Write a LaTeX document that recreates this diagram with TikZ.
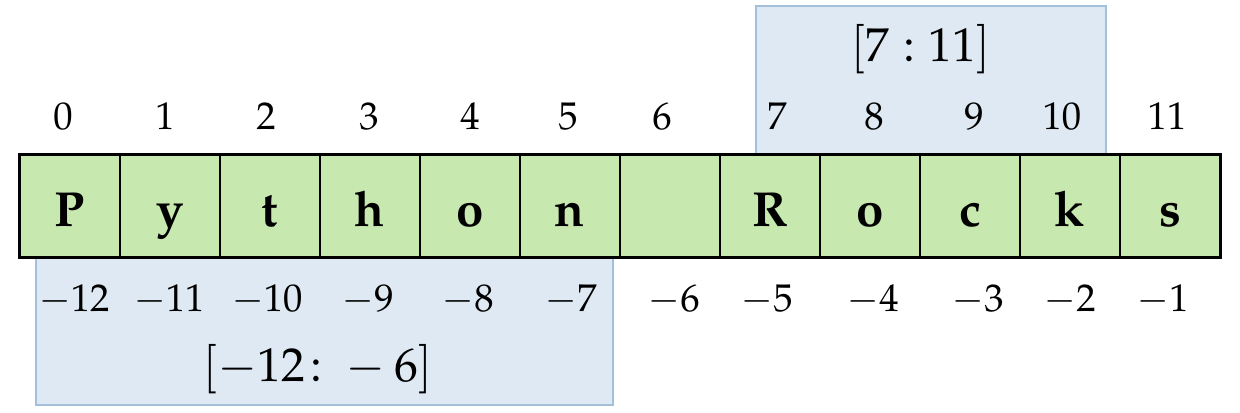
\documentclass[tikz,border=0pt]{standalone}
\usepackage[T1]{fontenc}
\usepackage{mathpazo}
\usepackage{tikz}
\usetikzlibrary{positioning}
\definecolor{cellgreen}{HTML}{C7E8AF}
\definecolor{slicefill}{HTML}{DFE9F3}
\definecolor{sliceedge}{HTML}{A3C0DA}

\tikzset{
  cell/.style={draw=black,line width=0.45pt,fill=cellgreen,minimum width=1cm,minimum height=1.02cm,
    text height=0.52cm,text depth=0.10cm,inner sep=0pt,font=\fontsize{14}{17}\selectfont\bfseries},
  idx/.style={anchor=base,inner sep=0pt,font=\fontsize{11}{13}\selectfont},
  slicebox/.style={draw=sliceedge,line width=0.7pt,fill=slicefill,anchor=south west,inner sep=0pt},
  slicelab/.style={anchor=base,inner sep=0pt,font=\fontsize{13.5}{16}\selectfont}
}

\begin{document}
\begin{tikzpicture}
  \useasboundingbox (0,0) rectangle (12.4,4.13);

  % Slice boxes behind the string
  \node[slicebox,minimum width=3.50cm,minimum height=1.48cm] (topbox) at (7.55,2.58) {};
  \node[slicebox,minimum width=5.77cm,minimum height=1.48cm] (botbox) at (0.35,0.07) {};
  \node[slicelab] (toplab) at (9.21,3.51) {$[7:11]$};
  \node[slicelab] (botlab) at (3.18,0.31) {$[-12\mkern-3mu:{}-6]$};

  % Characters of the string
  \foreach \ch [count=\i from 0] in {P,y,t,h,o,n,{},R,o,c,k,s}
    \node[cell] (cell\i) at (0.70+\i,2.07) {\ch};
  \draw[line width=0.65pt] (cell0.south west) rectangle (cell11.north east);

  % Positive indices
  \foreach \x [count=\i from 0] in {0.63,1.65,2.66,3.69,4.70,5.68,6.62,7.77,8.74,9.74,10.62,11.67}
    \node[idx] (top\i) at (\x,2.83) {$\i$};

  % Negative indices
  \foreach \x [count=\i from 0] in {0.74,1.69,2.67,3.68,4.68,5.71,6.74,7.67,8.73,9.78,10.70,11.63}{
    \pgfmathtruncatemacro\nidx{\i-12}
    \node[idx] (bot\i) at (\x,1.01) {$\nidx$};
  }
\end{tikzpicture}
\end{document}
